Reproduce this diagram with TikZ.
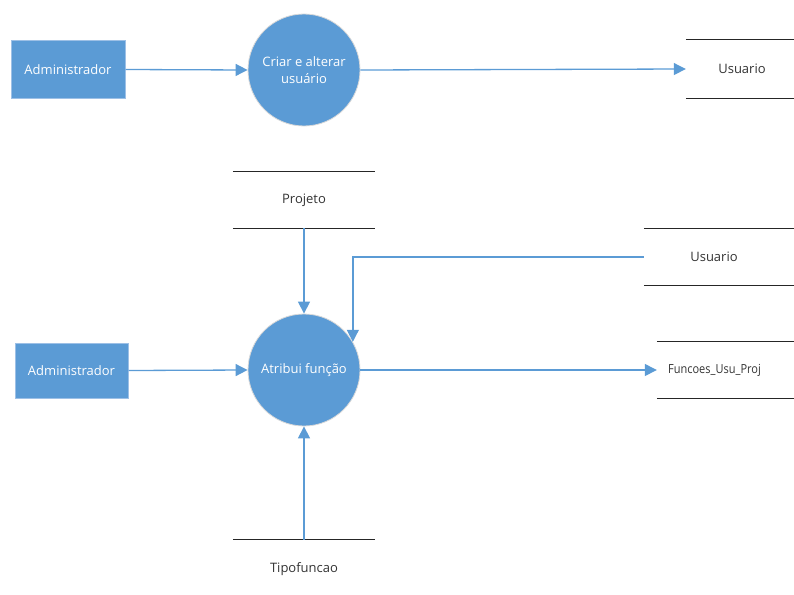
\documentclass[tikz,border=0pt]{standalone}
\usepackage{fontspec}
\usepackage{graphicx}
\setmainfont{Open Sans}
\usetikzlibrary{arrows.meta}
\definecolor{blu}{HTML}{5B9BD5}
\definecolor{bluedge}{HTML}{9DC0E6}
\definecolor{txt}{HTML}{333333}
\tikzset{
  lbl/.style={font=\fontsize{13}{17}\selectfont},
  ext/.style={rectangle, fill=blu, draw=bluedge, line width=1pt, text=white, lbl, inner sep=0pt},
  proc/.style={circle, fill=blu, draw=black!15, line width=0.8pt, text=white, minimum size=112pt, inner sep=0pt, align=center, lbl},
  store/.style={rectangle, inner sep=0pt, text=txt, lbl},
  storeline/.style={line width=1.2pt, draw=black!85},
  flow/.style={draw=blu, line width=1.3pt, -{Triangle[length=12pt,width=12pt]}}
}
\begin{document}
\begin{tikzpicture}[x=1pt,y=-1pt]
\useasboundingbox (0,0) rectangle (794,594);
% top row
\node[ext, minimum width=114pt, minimum height=57pt] (a1) at (68,69.5) {Administrador};
\node[proc] (c1) at (304,70) {Criar e alterar\\usuário};
\node[store, minimum width=108pt, minimum height=58pt] (u1) at (740,69) {};
\node[text=txt, lbl] (u1t) at (742,69) {Usuario};
% bottom part
\node[store, minimum width=142pt, minimum height=56pt] (pj) at (304,200) {Projeto};
\node[store, minimum width=150pt, minimum height=56pt] (u2) at (719,257) {};
\node[text=txt, lbl] (u2t) at (714,257) {Usuario};
\node[proc] (c2) at (304,370) {Atribui função};
\node[ext, minimum width=113pt, minimum height=55pt] (a2) at (71.5,370.5) {Administrador};
\node[store, minimum width=137pt, minimum height=56pt] (fu) at (725.5,370) {};
\node[text=txt, font=\fontsize{12.5}{16}\selectfont] (ft) at (714.5,370) {\scalebox{0.88}[1]{Funcoes\_Usu\_Proj}};
\node[store, minimum width=142pt, minimum height=58pt] (tf) at (304,569) {};
\node[text=txt, lbl] (tt) at (304,569) {Tipofuncao};
% store lines
\foreach \s in {u1,pj,u2,fu,tf}{
  \draw[storeline] (\s.north west) -- (\s.north east);
  \draw[storeline] (\s.south west) -- (\s.south east);
}
% flows
\draw[flow] (a1.east) -- (c1.west);
\draw[flow] (c1.east) -- (u1.west);
\draw[flow] (pj.south) -- (c2.north);
\draw[flow] (u2.west) -| (c2.30);
\draw[flow] (a2.east) -- (c2.west);
\draw[flow] (c2.east) -- (fu.west);
\draw[flow] (tf.north) -- (c2.south);
\end{tikzpicture}
\end{document}
